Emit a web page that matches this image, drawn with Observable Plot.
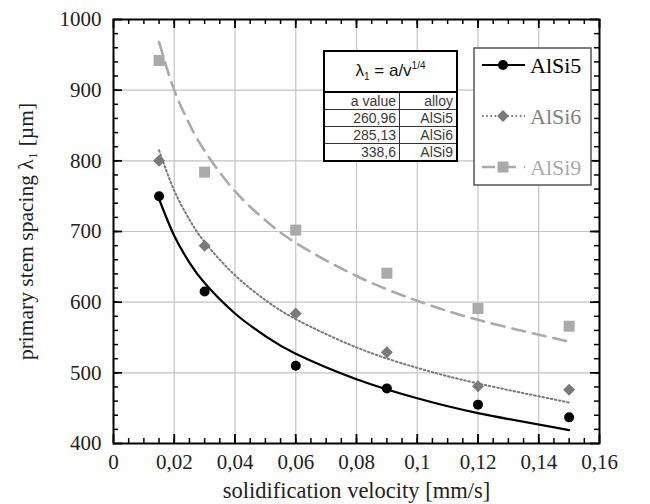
<!DOCTYPE html>
<html>
<head>
<meta charset="utf-8">
<script src="https://cdn.jsdelivr.net/npm/d3@7"></script>
<script src="https://cdn.jsdelivr.net/npm/@observablehq/plot@0.6"></script>
<style>
  html, body { margin: 0; padding: 0; background: #fff; }
  #wrap { position: relative; width: 650px; height: 504px; }
  #coef {
    position: absolute; left: 323px; top: 50px; width: 135px;
    border-collapse: collapse; border: 2px solid #000; background: #fff;
    font-family: "Liberation Sans", Arial, sans-serif; font-size: 14px; color: #3a3a3a;
  }
  #coef td { border: 1px solid #333; padding: 0 3px 0 0; text-align: right; height: 16px; line-height: 16px; }
  #coef td.title { text-align: center; height: 39px; font-size: 17px; color: #111; border-bottom: 2px solid #000; padding: 0; }
  #legend { position: absolute; left: 473px; top: 47px; }
</style>
</head>
<body>
<div id="wrap"></div>
<script>
// ---- data ----
const velocity = [0.015, 0.03, 0.06, 0.09, 0.12, 0.15];
const alsi5 = [750, 615, 510, 478, 455, 437];
const alsi6 = [800, 680, 584, 529, 481, 476];
const alsi9 = [942, 784, 702, 641, 591, 566];

// fitted curves
const fitVelocity = [0.015, 0.02, 0.025, 0.03, 0.04, 0.05, 0.06, 0.08, 0.10, 0.12, 0.15];
const fit5 = [746, 694, 656, 627, 584, 552, 527, 491, 464, 443, 419];
const fit6 = [815, 758, 717, 685, 638, 603, 576, 536, 507, 485, 458];
const fit9 = [968, 900, 852, 814, 757, 716, 684, 637, 602, 575, 544];

const alloys = ["AlSi5", "AlSi6", "AlSi9"];
const aValues = ["260,96", "285,13", "338,6"];

const xTicks = [0, 0.02, 0.04, 0.06, 0.08, 0.1, 0.12, 0.14, 0.16];
const xTickLabels = ["0", "0,02", "0,04", "0,06", "0,08", "0,1", "0,12", "0,14", "0,16"];
const yTicks = [400, 500, 600, 700, 800, 900, 1000];
const yTickLabels = ["400", "500", "600", "700", "800", "900", "1000"];
const xLabel = "solidification velocity [mm/s]";
const yLabel = "primary stem spacing λ₁ [µm]";

// ---- styles per series ----
const seriesStyle = {
  AlSi5: {color: "#000", marker: "circle", r: 5, dash: null, width: 2.2, text: "#000"},
  AlSi6: {color: "#7a7a7a", marker: "diamond2", r: 5.4, dash: "1.6,2.6", width: 2, text: "#808080"},
  AlSi9: {color: "#aaaaaa", marker: "square", r: 6.2, dash: "13,8", width: 2.6, text: "#aaaaaa"}
};

const pts = [];
const fits = [];
[alsi5, alsi6, alsi9].forEach((vals, i) => {
  vals.forEach((v, j) => pts.push({alloy: alloys[i], x: velocity[j], y: v}));
});
[fit5, fit6, fit9].forEach((vals, i) => {
  vals.forEach((v, j) => fits.push({alloy: alloys[i], x: fitVelocity[j], y: v}));
});

const W = 650, H = 504, mL = 113, mR = 51, mT = 19, mB = 61;
const innerH = H - mT - mB, innerW = W - mL - mR;
const xMinor = d3.range(0.005, 0.16, 0.005);
const yMinor = d3.range(420, 1000, 20);

const marks = [
  Plot.ruleX(xTicks.slice(1, -1), {stroke: "#c4c4c4", strokeWidth: 1.2}),
  Plot.ruleY(yTicks.slice(1, -1), {stroke: "#c4c4c4", strokeWidth: 1.2}),
  // inward ticks: bottom & top
  Plot.tickX(xMinor, {x: d => d, insetTop: innerH - 5, stroke: "#000", strokeWidth: 1.5}),
  Plot.tickX(xMinor, {x: d => d, insetBottom: innerH - 5, stroke: "#000", strokeWidth: 1.5}),
  Plot.tickX(xTicks, {x: d => d, insetTop: innerH - 9, stroke: "#000", strokeWidth: 1.8}),
  Plot.tickX(xTicks, {x: d => d, insetBottom: innerH - 9, stroke: "#000", strokeWidth: 1.8}),
  // inward ticks: left & right
  Plot.tickY(yMinor, {y: d => d, insetRight: innerW - 5, stroke: "#000", strokeWidth: 1.5}),
  Plot.tickY(yMinor, {y: d => d, insetLeft: innerW - 5, stroke: "#000", strokeWidth: 1.5}),
  Plot.tickY(yTicks, {y: d => d, insetRight: innerW - 9, stroke: "#000", strokeWidth: 1.8}),
  Plot.tickY(yTicks, {y: d => d, insetLeft: innerW - 9, stroke: "#000", strokeWidth: 1.8})
];

alloys.forEach(a => {
  const s = seriesStyle[a];
  marks.push(Plot.line(fits.filter(d => d.alloy === a), {
    x: "x", y: "y", curve: "natural", stroke: s.color, strokeWidth: s.width,
    strokeDasharray: s.dash
  }));
});
alloys.forEach(a => {
  const s = seriesStyle[a];
  marks.push(Plot.dot(pts.filter(d => d.alloy === a), {
    x: "x", y: "y", symbol: () => s.marker, r: s.r, fill: s.color, stroke: "none"
  }));
});
marks.push(Plot.frame({stroke: "#000", strokeWidth: 2}));

const chart = Plot.plot({
  width: W, height: H,
  marginLeft: mL, marginRight: mR, marginTop: mT, marginBottom: mB,
  style: {fontFamily: "Liberation Serif, serif", fontSize: "21px", color: "#222", background: "#fff"},
  x: {domain: [0, 0.16], ticks: xTicks, tickFormat: (d) => xTickLabels[xTicks.indexOf(d)] ?? "",
      tickSize: 0, tickPadding: 11, label: xLabel, labelAnchor: "center", labelOffset: 54, labelArrow: "none"},
  y: {domain: [400, 1000], ticks: yTicks, tickFormat: (d) => yTickLabels[yTicks.indexOf(d)] ?? "",
      tickSize: 0, tickPadding: 12,
      label: yLabel, labelAnchor: "center", labelOffset: 96, labelArrow: "none"},
  symbol: {type: "identity"},
  marks
});

// force serif font on all chart texts
d3.select(chart).selectAll("text").each(function() {
  const t = this.textContent;
  const sel = d3.select(this).style("font-family", "Liberation Serif, 'Times New Roman', serif")
    .style("fill", "#222");
  if (t === xLabel) sel.style("font-size", "22.5px");
  else if (t === yLabel) sel.style("font-size", "21.5px");
  else sel.style("font-size", "21px");
});

const wrap = document.getElementById("wrap");
wrap.appendChild(chart);

// ---- coefficient table ----
const tbl = document.createElement("table");
tbl.id = "coef";
let html = `<tr><td class="title" colspan="2">λ<sub style="font-size:10px">1</sub> = a/v<sup style="font-size:10px">1/4</sup></td></tr>`;
html += `<tr><td style="width:71px">a value</td><td>alloy</td></tr>`;
alloys.forEach((a, i) => { html += `<tr><td>${aValues[i]}</td><td>${a}</td></tr>`; });
tbl.innerHTML = html;
wrap.appendChild(tbl);

// ---- legend ----
const lw = 117, lh = 137;
const leg = d3.select(wrap).append("svg").attr("id", "legend").attr("width", lw + 2).attr("height", lh + 2);
leg.append("rect").attr("x", 1).attr("y", 1).attr("width", lw).attr("height", lh)
  .attr("fill", "#fff").attr("stroke", "#555").attr("stroke-width", 1.5);
alloys.forEach((a, i) => {
  const s = seriesStyle[a];
  const cy = 18 + i * 51;
  const g = leg.append("g").attr("transform", `translate(0,${cy})`);
  g.append("line").attr("x1", 9).attr("x2", 52).attr("y1", 0).attr("y2", 0)
    .attr("stroke", s.color).attr("stroke-width", s.width).attr("stroke-dasharray", s.dash);
  const sym = {circle: d3.symbolCircle, diamond2: d3.symbolDiamond2, square: d3.symbolSquare}[s.marker];
  g.append("path").attr("transform", "translate(30,0)")
    .attr("d", d3.symbol(sym, Math.PI * s.r * s.r)()).attr("fill", s.color);
  g.append("text").attr("x", 57).attr("y", 0).attr("dy", "0.35em")
    .style("font-family", "Liberation Serif, 'Times New Roman', serif").style("font-size", "22px")
    .attr("fill", s.text).text(a);
});
</script>
</body>
</html>
